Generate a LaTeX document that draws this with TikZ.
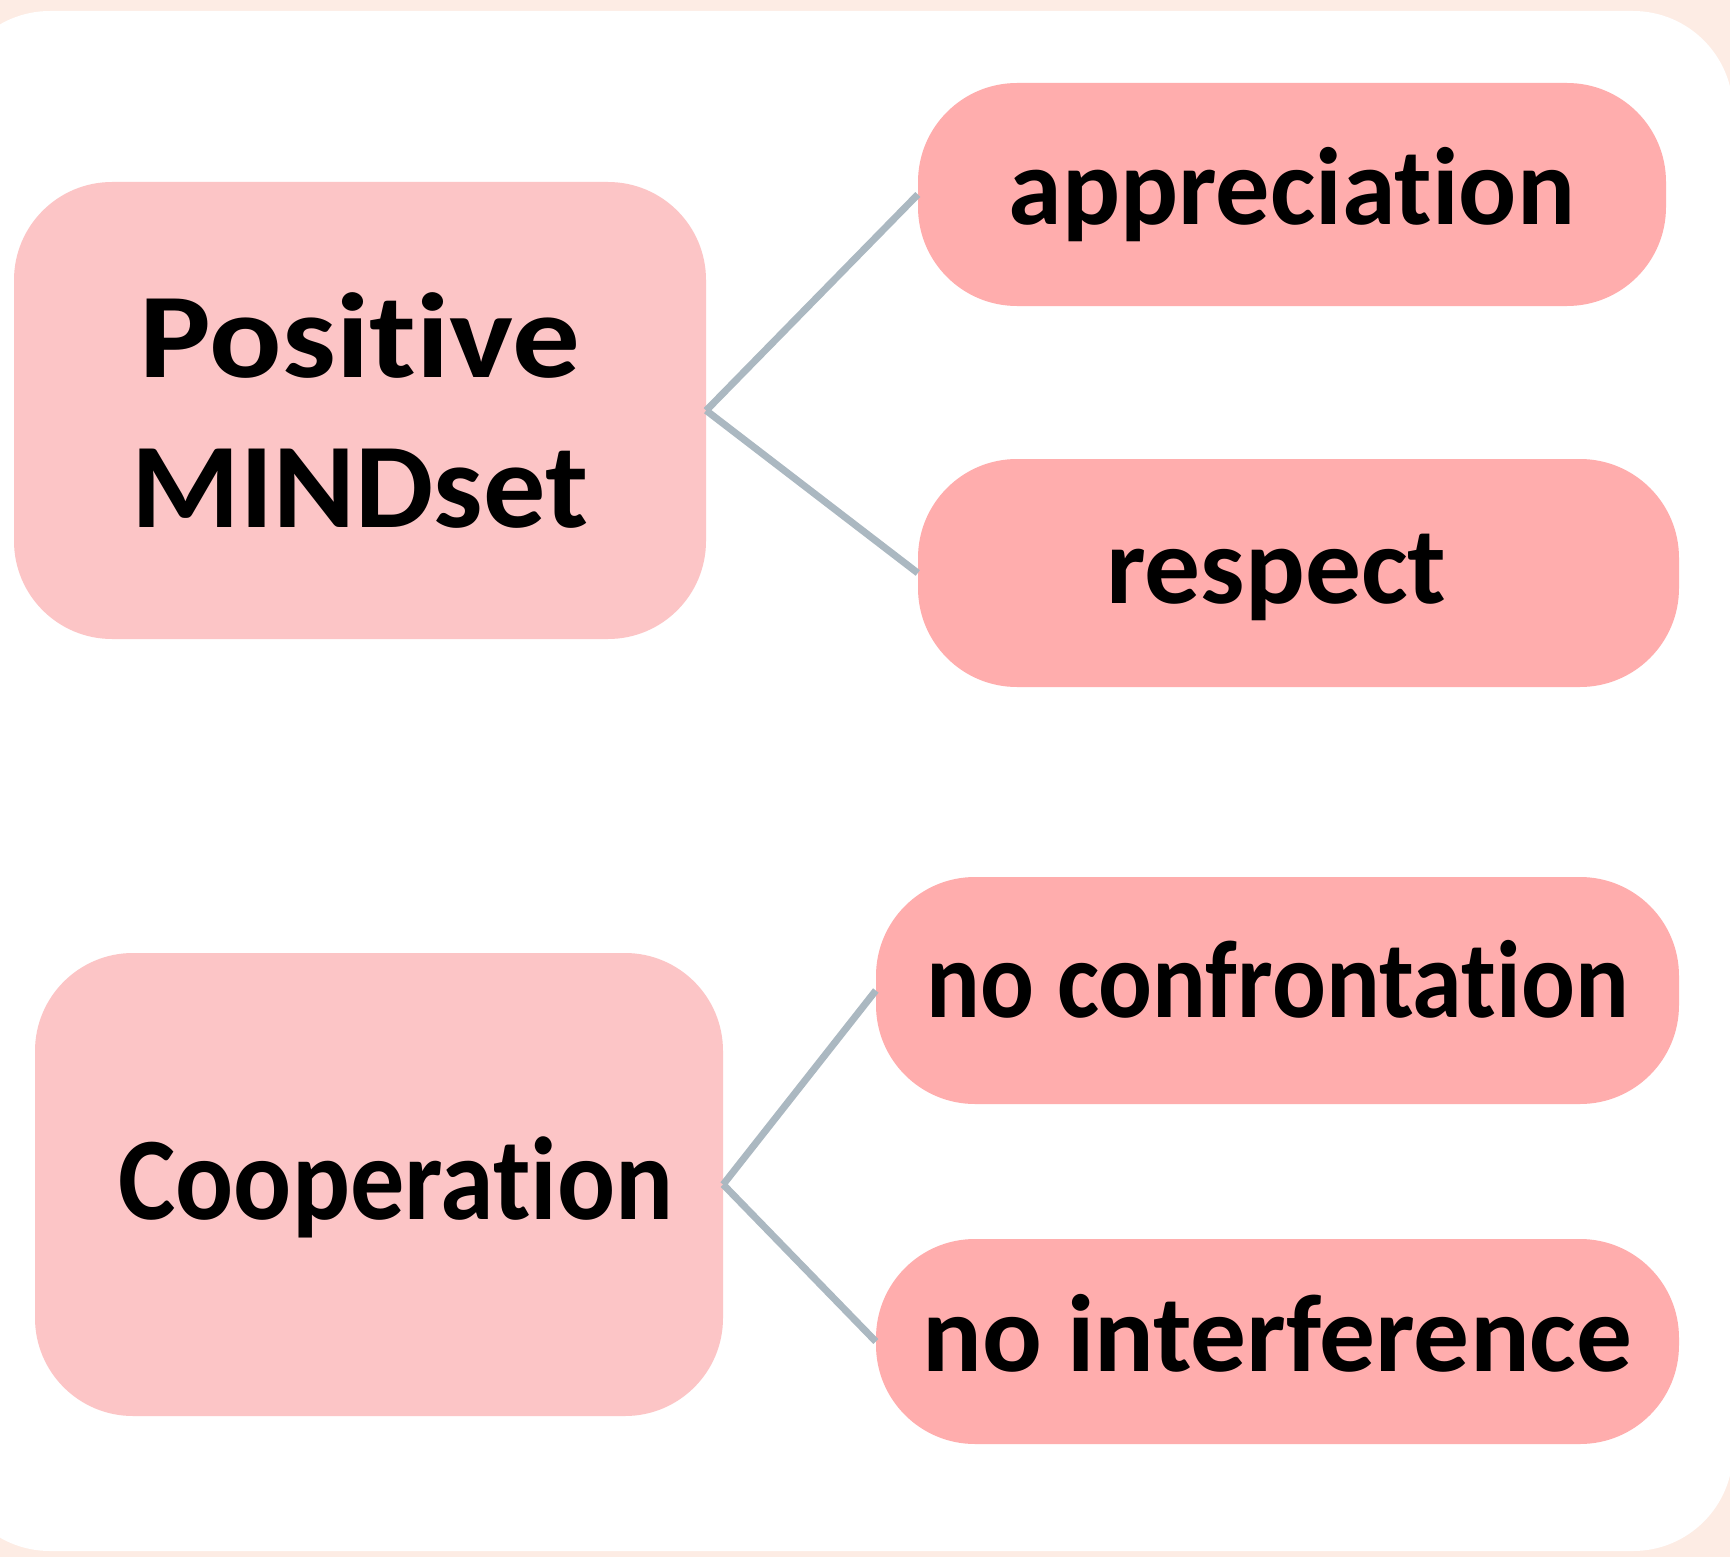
\documentclass[tikz,border=0pt]{standalone}
\usepackage{fontspec}
\setmainfont[Ligatures={NoCommon,NoRare,NoContextual}]{Carlito}
\usepackage{graphicx}
\definecolor{bgbeige}{RGB}{253,236,228}
\definecolor{parentpink}{RGB}{252,197,198}
\definecolor{childpink}{RGB}{255,173,173}
\definecolor{linkgray}{RGB}{171,184,193}
\begin{document}
\begin{tikzpicture}[x=1pt,y=-1pt,
  parentbox/.style={fill=parentpink, rounded corners=98pt, inner sep=0pt, text=black},
  childbox/.style={fill=childpink, rounded corners=99pt, inner sep=0pt, text=black,
    font=\bfseries\fontsize{110}{130}\selectfont, text height=80pt, text depth=20pt},
  link/.style={draw=linkgray, line width=7pt}]
\fill[bgbeige] (0,0) rectangle (1730,1557);
\useasboundingbox (0,0) rectangle (1730,1557);
\fill[white, rounded corners=100pt] (-50,11) rectangle (1733,1551);

\node[parentbox, align=center, minimum width=692pt, minimum height=457pt,
  font=\bfseries\fontsize{121}{150}\selectfont] (pm) at (360,410.5)
  {\resizebox{440pt}{\height}{Positive}\\\resizebox{456pt}{\height}{MINDset}};
\node[parentbox, minimum width=688pt, minimum height=463pt,
  font=\bfseries\fontsize{118}{140}\selectfont, text height=80pt, text depth=11pt] (coop) at (379,1184.5)
  {\kern34pt\resizebox{555pt}{\height}{Cooperation}};

\node[childbox, minimum width=748pt, minimum height=223pt] (appr) at (1292,194.5)
  {\resizebox{566pt}{\height}{appreciation}};
\node[childbox, minimum width=761pt, minimum height=228pt] (resp) at (1298.5,573)
  {\resizebox{340pt}{\height}{respect}\kern44pt};
\node[childbox, minimum width=803pt, minimum height=227pt, text depth=27pt] (conf) at (1277.5,990.5)
  {\resizebox{702pt}{\height}{no confrontation}};
\node[childbox, minimum width=803pt, minimum height=205pt, text depth=21pt] (inter) at (1277.5,1341.5)
  {\resizebox{710pt}{\height}{no interference}};

\draw[link] (pm.east) -- (appr.west);
\draw[link] (pm.east) -- (resp.west);
\draw[link] (coop.east) -- (conf.west);
\draw[link] (coop.east) -- (inter.west);
\end{tikzpicture}
\end{document}
